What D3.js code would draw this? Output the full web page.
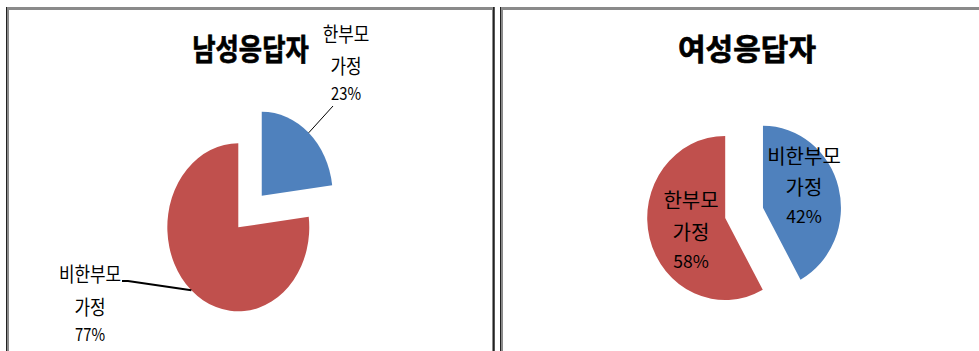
<!DOCTYPE html>
<html>
<head>
<meta charset="utf-8">
<script src="https://cdn.jsdelivr.net/npm/d3@7"></script>
<style>
  html, body { margin: 0; padding: 0; background: #fff; }
  svg { display: block; }
  text { font-family: "Noto Sans CJK KR", "Noto Sans", sans-serif; fill: #000; }
</style>
</head>
<body>
<svg id="chart" width="979" height="351"></svg>
<script>
// 응답자 성별 가정 형태 비율 (%)
const maleTitle = "남성응답자";
const maleCategories = ["한부모 가정", "비한부모 가정"];
const maleValues = [23, 77];

const femaleTitle = "여성응답자";
const femaleCategories = ["비한부모 가정", "한부모 가정"];
const femaleValues = [42, 58];

// 조각 색상 (순서대로)
const sliceColors = ["#4F81BD", "#C0504D"];

const svg = d3.select("#chart");

// 패널 배치: 테두리, 제목, 파이 위치/크기, 라벨 위치
const panels = [
  {
    title: maleTitle, categories: maleCategories, values: maleValues,
    x0: 6, x1: 495, titleX: 250.5, titleY: 49, titleSize: 30,
    sx: 0.845, cx: 238.3, cy: 227.3, r: 84, explode: [0.5, 0],
    labelSize: 20, pctSize: 17.5,
    labels: [
      { x: 346, ys: [35, 67, 94], leader: [[333, 106]], leaderWidth: 1 },
      { x: 90, ys: [275, 308, 335], leader: [[128, 281], [122, 281]], leaderWidth: 2 }
    ]
  },
  {
    title: femaleTitle, categories: femaleCategories, values: femaleValues,
    x0: 500, x1: 1000, titleX: 747, titleY: 49.5, titleSize: 30,
    sx: 0.951, cx: 725.2, cy: 218, r: 82, explode: [0.5, 0],
    labelSize: 20, pctSize: 17.5,
    labels: [
      { x: 804, ys: [157, 188, 217] },
      { x: 691, ys: [201, 233, 262] }
    ]
  }
];

// 가로 배율이 적용된 중앙 정렬 텍스트
function label(g, x, cyText, str, size, sx, bold) {
  const t = g.append("text")
    .attr("transform", `translate(${x},${cyText + size * 0.365}) scale(${sx},1)`)
    .attr("text-anchor", "middle")
    .attr("font-size", size)
    .attr("font-weight", bold ? "bold" : "normal")
    .text(str);
  if (bold) t.attr("stroke", "#000").attr("stroke-width", 0.7);
}

panels.forEach(p => {
  const g = svg.append("g");

  // 차트 영역 테두리
  g.append("rect").attr("x", p.x0).attr("y", 7)
    .attr("width", p.x1 - p.x0).attr("height", 360).attr("fill", "#8a8a8a");
  g.append("rect").attr("x", p.x0 + 3).attr("y", 10)
    .attr("width", p.x1 - p.x0 - 6).attr("height", 360).attr("fill", "#fff");
  g.append("rect").attr("x", p.x0).attr("y", 7)
    .attr("width", 1).attr("height", 360).attr("fill", "#222");
  g.append("rect").attr("x", p.x1 - 2).attr("y", 7)
    .attr("width", 1.5).attr("height", 360).attr("fill", "#222");

  const textScale = p.sx < 0.9 ? p.sx : 1;

  // 제목
  label(g, p.titleX, p.titleY, p.title, p.titleSize, textScale, true);

  const data = p.categories.map((c, i) => ({ category: c, value: p.values[i], i }));
  const pie = d3.pie().sort(null).value(d => d.value).startAngle(0).endAngle(2 * Math.PI);
  const arcs = pie(data);
  const arc = d3.arc().innerRadius(0).outerRadius(p.r);

  const pieG = g.append("g")
    .attr("transform", `translate(${p.cx},${p.cy}) scale(${p.sx},1)`);

  // 분리된 조각의 중심 이동량
  const offsetOf = a => {
    const mid = (a.startAngle + a.endAngle) / 2;
    const d = p.explode[a.index] * p.r;
    return [d * Math.sin(mid), -d * Math.cos(mid)];
  };

  pieG.selectAll("path").data(arcs).join("path")
    .attr("transform", a => `translate(${offsetOf(a)})`)
    .attr("d", arc)
    .attr("fill", a => sliceColors[a.index]);

  // 라벨과 지시선
  arcs.forEach(a => {
    const L = p.labels[a.index];
    const parts = a.data.category.split(" ");
    label(g, L.x, L.ys[0], parts[0], p.labelSize, textScale);
    label(g, L.x, L.ys[1], parts[1], p.labelSize, textScale);
    label(g, L.x, L.ys[2], a.data.value + "%", p.pctSize, textScale);

    if (L.leader) {
      const mid = (a.startAngle + a.endAngle) / 2;
      const [ox, oy] = offsetOf(a);
      const ex = p.cx + p.sx * (ox + p.r * Math.sin(mid));
      const ey = p.cy + (oy - p.r * Math.cos(mid));
      const pts = [[ex, ey]].concat(L.leader);
      g.append("path")
        .attr("d", d3.line()(pts))
        .attr("fill", "none")
        .attr("stroke", "#000")
        .attr("stroke-width", L.leaderWidth);
    }
  });
});
</script>
</body>
</html>
